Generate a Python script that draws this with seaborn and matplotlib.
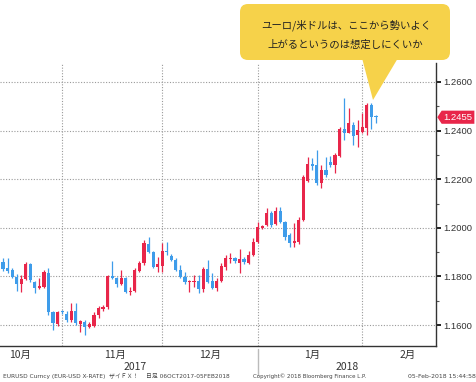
import numpy as np
import pandas as pd
import seaborn as sns
import matplotlib.pyplot as plt
from matplotlib.patches import FancyBboxPatch, Polygon
from matplotlib.transforms import blended_transform_factory

# EUR/USD daily candles, mid-Oct 2017 to 05-Feb-2018
opens = [1.1859, 1.1835, 1.1826, 1.1798, 1.1769, 1.1789, 1.1851, 1.1777, 1.1752, 1.1756,
         1.1814, 1.1654, 1.1604, 1.1656, 1.1645, 1.1621, 1.1658, 1.1604, 1.1612, 1.1592,
         1.1596, 1.1641, 1.1666, 1.1674, 1.1802, 1.1793, 1.1769, 1.1793, 1.1736, 1.1740,
         1.1822, 1.1855, 1.1933, 1.1900, 1.1839, 1.1843, 1.1905, 1.1884, 1.1868, 1.1826,
         1.1798, 1.1777, 1.1777, 1.1781, 1.1748, 1.1830, 1.1781, 1.1752, 1.1781, 1.1839,
         1.1872, 1.1876, 1.1855, 1.1872, 1.1855, 1.1888, 1.1942, 1.1999, 1.2012, 1.2061,
         1.2016, 1.2069, 1.2024, 1.1970, 1.1937, 1.1942, 1.2032, 1.2193, 1.2263, 1.2258,
         1.2184, 1.2238, 1.2271, 1.2258, 1.2296, 1.2407, 1.2390, 1.2423, 1.2382, 1.2394,
         1.2411, 1.2505, 1.2460]
highs = [1.1876, 1.1876, 1.1835, 1.1810, 1.1806, 1.1859, 1.1855, 1.1781, 1.1793, 1.1826,
         1.1835, 1.1658, 1.1658, 1.1662, 1.1658, 1.1691, 1.1691, 1.1621, 1.1621, 1.1612,
         1.1654, 1.1678, 1.1682, 1.1806, 1.1863, 1.1798, 1.1826, 1.1798, 1.1756, 1.1835,
         1.1863, 1.1950, 1.1962, 1.1905, 1.1880, 1.1937, 1.1942, 1.1892, 1.1876, 1.1847,
         1.1818, 1.1785, 1.1806, 1.1806, 1.1839, 1.1868, 1.1814, 1.1793, 1.1855, 1.1888,
         1.1896, 1.1880, 1.1913, 1.1880, 1.1905, 1.1958, 1.2024, 1.2012, 1.2082, 1.2069,
         1.2086, 1.2086, 1.2028, 1.1979, 1.2020, 1.2045, 1.2217, 1.2291, 1.2287, 1.2320,
         1.2258, 1.2291, 1.2296, 1.2308, 1.2415, 1.2534, 1.2493, 1.2435, 1.2444, 1.2472,
         1.2514, 1.2514, 1.2466]
lows = [1.1822, 1.1814, 1.1793, 1.1740, 1.1736, 1.1785, 1.1777, 1.1732, 1.1748, 1.1752,
        1.1641, 1.1579, 1.1596, 1.1645, 1.1612, 1.1612, 1.1600, 1.1571, 1.1559, 1.1588,
        1.1592, 1.1629, 1.1660, 1.1666, 1.1790, 1.1756, 1.1765, 1.1732, 1.1724, 1.1736,
        1.1818, 1.1847, 1.1896, 1.1835, 1.1818, 1.1818, 1.1888, 1.1863, 1.1822, 1.1793,
        1.1769, 1.1736, 1.1756, 1.1732, 1.1736, 1.1773, 1.1748, 1.1740, 1.1777, 1.1826,
        1.1855, 1.1855, 1.1814, 1.1851, 1.1851, 1.1884, 1.1938, 1.1995, 1.2007, 1.2003,
        1.2012, 1.2020, 1.1950, 1.1921, 1.1921, 1.1933, 1.2028, 1.2189, 1.2238, 1.2176,
        1.2164, 1.2209, 1.2250, 1.2226, 1.2291, 1.2361, 1.2390, 1.2341, 1.2333, 1.2390,
        1.2382, 1.2407, 1.2431]
closes = [1.1830, 1.1822, 1.1798, 1.1769, 1.1789, 1.1851, 1.1785, 1.1752, 1.1761, 1.1818,
          1.1654, 1.1608, 1.1654, 1.1652, 1.1621, 1.1658, 1.1608, 1.1617, 1.1592, 1.1604,
          1.1641, 1.1670, 1.1674, 1.1802, 1.1793, 1.1769, 1.1793, 1.1736, 1.1740, 1.1826,
          1.1855, 1.1937, 1.1900, 1.1839, 1.1851, 1.1905, 1.1900, 1.1868, 1.1826, 1.1798,
          1.1777, 1.1781, 1.1781, 1.1748, 1.1830, 1.1777, 1.1752, 1.1781, 1.1843, 1.1876,
          1.1878, 1.1863, 1.1872, 1.1859, 1.1888, 1.1942, 1.2003, 1.2007, 1.2061, 1.2012,
          1.2069, 1.2024, 1.1962, 1.1937, 1.1946, 1.2032, 1.2209, 1.2263, 1.2254, 1.2184,
          1.2238, 1.2217, 1.2258, 1.2300, 1.2407, 1.2390, 1.2431, 1.2378, 1.2403, 1.2415,
          1.2505, 1.2456, 1.2455]

month_labels = ["10月", "11月", "12月", "1月", "2月"]
month_label_pos = [3.7, 24.6, 45.5, 68.0, 89.0]
month_starts = [13, 35, 56, 79]
year_labels = ["2017", "2018"]
year_label_pos = [29.0, 75.6]
y_ticks = [1.16, 1.18, 1.20, 1.22, 1.24, 1.26]

callout_lines = ["ユーロ/米ドルは、ここから勢いよく", "上がるというのは想定しにくいか"]
footer_left = "EURUSD Curncy (EUR-USD X-RATE)  ザイＦＸ！    日足 06OCT2017-05FEB2018"
footer_mid = "Copyright© 2018 Bloomberg Finance L.P."
footer_right = "05-Feb-2018 15:44:58"

UP = "#E8264A"
DOWN = "#3E9CEA"
GRID = "#9a9a9a"
JP = ["Noto Sans CJK JP", "DejaVu Sans"]

sns.set_theme(style="white")
plt.rcParams["font.family"] = ["Liberation Sans", "Noto Sans CJK JP", "DejaVu Sans"]

df = pd.DataFrame({"open": opens, "high": highs, "low": lows, "close": closes})
df["idx"] = np.arange(len(df))
df["up"] = df["close"] >= df["open"]
df["bottom"] = df[["open", "close"]].min(axis=1)
df["height"] = (df["close"] - df["open"]).abs().clip(lower=0.0003)
df["color"] = np.where(df["up"], UP, DOWN)

fig = plt.figure(figsize=(4.77, 3.82), dpi=100)
ax = fig.add_axes([0, 36 / 382, 436 / 477, 283 / 382])

# grid first
for y in y_ticks:
    ax.axhline(y, color=GRID, lw=0.8, ls=(0, (1, 1.5)), zorder=0)
for m in month_starts:
    ax.axvline(m, color=GRID, lw=0.8, ls=(0, (1, 1.5)), zorder=0)

# candles
ax.vlines(df["idx"], df["low"], df["high"], colors=df["color"], lw=0.9, zorder=2)
ax.bar(df["idx"], df["height"], bottom=df["bottom"], width=0.7,
       color=df["color"], lw=0, zorder=3)

ax.set_xlim(-0.66, 95.2)
ax.set_ylim(1.1514, 1.2678)

sns.despine(ax=ax, left=True, top=True, right=False, bottom=False)
for s in ("right", "bottom"):
    ax.spines[s].set_color("#333333")
    ax.spines[s].set_linewidth(1.0)

ax.yaxis.tick_right()
ax.set_yticks(y_ticks)
ax.set_yticks([1.17, 1.19, 1.21, 1.23, 1.25], minor=True)
ax.set_yticklabels([f"{v:.4f}" for v in y_ticks])
ax.tick_params(axis="y", which="major", direction="out", length=3.5, width=1.4,
               color="#222222", pad=2, labelsize=6.8, labelcolor="#333333")
ax.tick_params(axis="y", which="minor", direction="out", length=2.5, width=0.8,
               color="#555555")
ax.set_xticks(month_starts)
ax.set_xticklabels([])
ax.tick_params(axis="x", which="major", direction="out", length=3, width=0.8,
               color="#888888")

trans = blended_transform_factory(ax.transData, ax.transAxes)
for lab, pos in zip(month_labels, month_label_pos):
    ax.text(pos, -0.032, lab, transform=trans, ha="center", va="center",
            fontsize=7.5, color="#333333", family=JP)
for lab, pos in zip(year_labels, year_label_pos):
    ax.text(pos, -0.074, lab, transform=trans, ha="center", va="center",
            fontsize=7.5, color="#333333", family=JP)
ax.plot([56, 56], [-0.012, -0.102], transform=trans, color="#bbbbbb", lw=1.0,
        clip_on=False)

# last price marker on the right axis
last = df["close"].iloc[-1]
tr_p = blended_transform_factory(ax.transAxes, ax.transData)
hh = 0.0027
ax.add_patch(Polygon([[1.003, last], [1.013, last + hh], [1.088, last + hh],
                      [1.088, last - hh], [1.013, last - hh]], closed=True,
                     transform=tr_p, facecolor=UP, edgecolor="none",
                     clip_on=False, zorder=5))
ax.text(1.051, last, f"{last:.4f}", transform=tr_p, ha="center", va="center",
        fontsize=6.8, color="white", clip_on=False, zorder=6)

# overlay in pixel coordinates for the callout and footer
ov = fig.add_axes([0, 0, 1, 1])
ov.set_xlim(0, 477)
ov.set_ylim(382, 0)
ov.axis("off")
ov.patch.set_alpha(0)

YEL = "#F6D24A"
ov.add_patch(FancyBboxPatch((240, 4), 210, 56, boxstyle="round,pad=0,rounding_size=8",
                            facecolor=YEL, edgecolor="none"))
ov.add_patch(Polygon([[362, 58], [398, 58], [373, 100]], closed=True,
                     facecolor=YEL, edgecolor="none"))
ov.text(346, 25, callout_lines[0], ha="center", va="center", fontsize=7.5,
        color="#222222", family=JP)
ov.text(345, 45, callout_lines[1], ha="center", va="center", fontsize=7.5,
        color="#222222", family=JP)

ov.text(3, 376, footer_left, ha="left", va="center", fontsize=4.2,
        color="#444444", family=["DejaVu Sans", "Noto Sans CJK JP"])
ov.text(253, 376, footer_mid, ha="left", va="center", fontsize=4.0,
        color="#444444", family=["DejaVu Sans", "Noto Sans CJK JP"])
ov.text(476, 376, footer_right, ha="right", va="center", fontsize=4.4,
        color="#444444", family=["DejaVu Sans", "Noto Sans CJK JP"])

fig.savefig("out.png", dpi=100)
